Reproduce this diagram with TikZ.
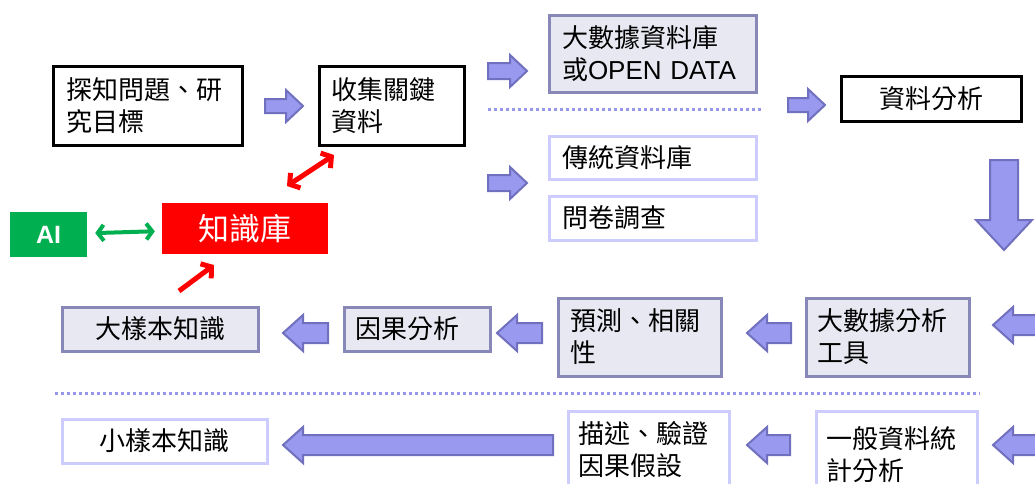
\documentclass[tikz,border=0pt]{standalone}
\usepackage{fontspec}
\setmainfont{Liberation Sans}
\newfontfamily\cjk{Noto Sans CJK TC}
\newfontfamily\arial{Liberation Sans}
\usetikzlibrary{arrows.meta}
\definecolor{arrfill}{RGB}{153,153,240}
\definecolor{arrline}{RGB}{112,112,190}
\definecolor{lavfill}{RGB}{232,232,242}
\definecolor{lavline}{RGB}{136,136,184}
\definecolor{liteline}{RGB}{204,204,255}
\definecolor{dotcol}{RGB}{150,150,235}
\definecolor{aigreen}{RGB}{0,176,80}
\definecolor{kbred}{RGB}{255,0,0}
\tikzset{
 box/.style={draw, line width=3pt, inner sep=0pt, font=\cjk\fontsize{26}{32}\selectfont},
 blackbox/.style={box, draw=black, fill=white},
 lavbox/.style={box, draw=lavline, fill=lavfill},
 litebox/.style={box, draw=liteline, fill=white},
 barr/.style={draw=arrline, fill=arrfill, line width=2pt, line join=miter},
 dots/.style={dotcol, line width=3pt, dash pattern=on 3pt off 3pt},
 redarr/.style={kbred, line width=5pt},
 greenarr/.style={aigreen, line width=4pt, {Straight Barb[length=6pt,width=16pt]}-{Straight Barb[length=6pt,width=16pt]}},
}
\newcommand\hbarrow[6]{%
 \draw[barr] ({#1},{#2-(#5)}) -- ({#3-(#6)},{#2-(#5)}) -- ({#3-(#6)},{#2-(#4)}) -- ({#3},{#2}) -- ({#3-(#6)},{#2+(#4)}) -- ({#3-(#6)},{#2+(#5)}) -- ({#1},{#2+(#5)}) -- cycle;}
\begin{document}
\begin{tikzpicture}[x=1pt,y=-1pt]
\useasboundingbox (0,0) rectangle (1035,483);
\clip (0,0) rectangle (1035,483);
\fill[white] (0,0) rectangle (1035,483);

% top row
\node[blackbox, minimum width=189pt, minimum height=79pt, text width=163pt, align=left] (q) at (147.5,105.5) {探知問題、研\\究目標};
\node[blackbox, minimum width=145pt, minimum height=79pt, text width=121pt, align=left] (c) at (391.5,105.5) {收集關鍵\\資料};
\node[lavbox, minimum width=207pt, minimum height=77pt, text width=181pt, align=left] (big) at (652.5,53.5) {大數據資料庫\\或{\arial OPEN DATA}};
\node[litebox, minimum width=207pt, minimum height=43pt, text width=181pt, align=left] (trad) at (652.5,157.5) {傳統資料庫};
\node[litebox, minimum width=207pt, minimum height=44pt, text width=181pt, align=left] (survey) at (652.5,218) {問卷調查};
\node[blackbox, minimum width=180pt, minimum height=45pt, align=center] (ana) at (931,98.5) {資料分析};

\hbarrow{265}{106}{303}{16}{7}{17}
\hbarrow{488}{71}{527}{16}{8}{17}
\hbarrow{488}{183}{527}{16}{8}{17}
\hbarrow{788}{105}{825}{16}{7}{17}
\draw[barr] (990,160) -- (1018,160) -- (1018,220) -- (1032,220) -- (1004,250) -- (976,220) -- (990,220) -- cycle;

\draw[dots] (488,109) -- (762,109);

% knowledge base
\node[fill=aigreen, minimum width=77pt, minimum height=45pt, inner sep=0pt, text=white, font=\arial\bfseries\fontsize{25}{30}\selectfont] (ai) at (48.5,234.5) {AI};
\node[fill=kbred, minimum width=166pt, minimum height=51pt, inner sep=0pt, text=white, font=\cjk\fontsize{31}{36}\selectfont] (kb) at (245,228.5) {知識庫};
\draw[greenarr, shorten <=8pt, shorten >=7pt] (ai) -- (kb);
\coordinate (r1) at (287,186);
\coordinate (r2) at (334,155);
\coordinate (r3) at (179,291);
\coordinate (r4) at (214,265);
\draw[redarr, {Straight Barb[length=7pt,width=18pt]}-{Straight Barb[length=7pt,width=18pt]}] (r1) -- (r2);
\draw[redarr, -{Straight Barb[length=7pt,width=18pt]}] (r3) -- (r4);

% middle row
\node[lavbox, minimum width=163pt, minimum height=78pt, text width=141pt, align=left] (tool) at (887.5,337) {大數據分析\\工具};
\node[lavbox, minimum width=163pt, minimum height=78pt, text width=139pt, align=left] (pred) at (639.5,337) {預測、相關\\性};
\node[lavbox, minimum width=146pt, minimum height=44pt, text width=124pt, align=left] (cause) at (417,329) {因果分析};
\node[lavbox, minimum width=196pt, minimum height=44pt, align=center] (bigk) at (160,329) {大樣本知識};

\hbarrow{1045}{325}{993}{18}{10}{-20}
\hbarrow{791}{333}{747}{18}{10}{-20}
\hbarrow{542}{333}{497}{18}{10}{-20}
\hbarrow{328}{333}{283}{18}{10}{-20}

\draw[dots] (55,393) -- (980,393);

% bottom row
\node[litebox, minimum width=161pt, minimum height=88pt, text width=141pt, align=left] (gen) at (896.5,455) {一般資料統\\計分析};
\node[litebox, minimum width=161pt, minimum height=78pt, text width=141pt, align=left] (desc) at (648.5,450) {描述、驗證\\因果假設};
\node[litebox, minimum width=205pt, minimum height=44pt, align=center] (smallk) at (164.5,441) {小樣本知識};

\hbarrow{1045}{445}{993}{18}{10}{-20}
\hbarrow{790}{445}{747}{18}{10}{-20}
\hbarrow{553}{445}{283}{18}{10}{-20}
\end{tikzpicture}
\end{document}
